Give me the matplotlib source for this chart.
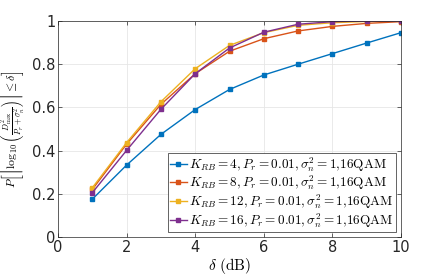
import numpy as np
import matplotlib.pyplot as plt

plt.rcParams['mathtext.fontset'] = 'cm'
plt.rcParams['font.family'] = 'DejaVu Sans'
plt.rcParams['font.size'] = 10

delta = [1, 2, 3, 4, 5, 6, 7, 8, 9, 10]
k4 = [0.175, 0.333, 0.475, 0.59, 0.683, 0.75, 0.80, 0.849, 0.898, 0.946]
k8 = [0.22, 0.43, 0.614, 0.756, 0.86, 0.918, 0.954, 0.975, 0.989, 0.997]
k12 = [0.228, 0.437, 0.626, 0.779, 0.887, 0.946, 0.98, 0.992, 0.998, 0.999]
k16 = [0.205, 0.401, 0.591, 0.756, 0.875, 0.948, 0.985, 0.997, 1.0, 1.0]
series = [k4, k8, k12, k16]
kvals = [4, 8, 12, 16]
colors = ['#0072BD', '#D95319', '#EDB120', '#7E2F8E']

fig = plt.figure(figsize=(4.43, 2.78), dpi=100)
ax = fig.add_axes([58/443, 1-237/278, 343/443, 216/278])

for y, k, c in zip(series, kvals, colors):
    ax.plot(delta, y, '-s', color=c, lw=1.0, ms=3, mfc=c, mec=c,
            label=r'$K_{RB}=%d, P_r=0.01, \sigma_n^2=1,\!16\mathrm{QAM}$' % k)

ax.set_xlim(0, 10)
ax.set_ylim(0, 1)
ax.set_xticks(np.arange(0, 11, 2))
ax.set_yticks(np.arange(0, 1.01, 0.2))
ax.set_yticklabels(['0', '0.2', '0.4', '0.6', '0.8', '1'])
ax.grid(True, color='#e6e6e6', lw=0.6)
ax.set_axisbelow(True)
ax.tick_params(direction='in', length=3, top=True, right=True, colors='#262626', labelsize=10.5, width=0.5, pad=2)
for s in ax.spines.values():
    s.set_color('#262626')
    s.set_linewidth(0.5)

ax.set_xlabel(r'$\delta\ \mathrm{(dB)}$', fontsize=11, labelpad=1)
ax.set_ylabel(r'$P\left[\left|\log_{10}\left(\frac{D^2_{\max}}{P_r+\sigma_n^2}\right)\right|\leq\delta\right]$',
              fontsize=8.5)
ax.yaxis.set_label_coords(-0.09, 0.5)

leg = ax.legend(loc='lower right', fontsize=9.5, frameon=True, fancybox=False,
                edgecolor='#262626', framealpha=1, handlelength=1.3,
                borderpad=0.15, labelspacing=0.0, handletextpad=0.2,
                borderaxespad=0.4)
leg.get_frame().set_linewidth(0.5)

fig.savefig('out.png', dpi=100)
